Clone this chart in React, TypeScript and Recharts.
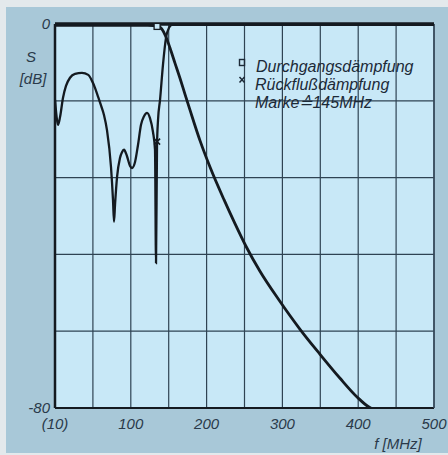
import React from 'react'
import {
  ComposedChart,
  Line,
  Scatter,
  XAxis,
  YAxis,
  CartesianGrid,
  ReferenceLine,
} from 'recharts'

// sweep 10..500 MHz, 10 divisions on screen
const xTicks = [10, 59, 108, 157, 206, 255, 304, 353, 402, 451, 500]
const xTickLabels = ['(10)', '', '100', '', '200', '', '300', '', '400', '', '500']
const yTicks = [-80, -64, -48, -32, -16, 0]
const yTickLabels = ['-80', '', '', '', '', '0']

// Durchgangsdämpfung (S21)
const throughFreq = [10, 60, 100, 130, 143, 148, 153.5, 158.7, 165, 171.6, 178, 184.5, 197.5, 210.4, 228.5, 242.7, 256.9, 275, 299.6, 326.8, 352.6, 378.5, 400.5, 416, 418.5]
const throughDb = [-0.3, -0.3, -0.3, -0.3, -0.4, -1, -2.7, -5, -8.1, -11.3, -14.6, -17.9, -24.3, -29.8, -36.6, -41.6, -46.3, -51.5, -57.5, -63.6, -68.8, -73.8, -77.7, -79.8, -80]

// Rückflußdämpfung (S11)
const returnFreq = [10, 12.6, 13.9, 16.5, 20.3, 24.2, 29.4, 35.9, 44.9, 53, 58, 61.7, 66, 70, 73.4, 77.2, 82.4, 85, 86.3, 87.6, 90.2, 94, 96.6, 99.2, 103, 107, 109.6, 113.4, 117.3, 121.2, 125.1, 129, 132.8, 136.7, 139.3, 140.6, 141.9, 143.2, 145.8, 149.6, 153.5, 157.4, 161.3, 200, 300, 400, 500]
const returnDb = [-15.8, -20, -21, -19.4, -15.4, -12.9, -11.2, -10.4, -10.2, -10.6, -11.9, -13.3, -15.3, -17.2, -19, -22.1, -29.8, -36.7, -41.2, -37.7, -31.9, -27.9, -26.7, -26.2, -27.5, -29.6, -30, -28.8, -25.2, -21, -19.2, -18.5, -19.6, -22.5, -26.2, -49.8, -25.2, -20, -15.8, -8.5, -2.9, -0.8, -0.2, -0.2, -0.2, -0.2, -0.2]

// Marke 145 MHz
const markerFreq = [142]
const markerThroughDb = [-0.5]
const markerReturnDb = [-24.5]

const through = throughFreq.map((f, i) => ({ f, db: throughDb[i] }))
const returnLoss = returnFreq.map((f, i) => ({ f, db: returnDb[i] }))
const markThrough = markerFreq.map((f, i) => ({ f, db: markerThroughDb[i] }))
const markReturn = markerFreq.map((f, i) => ({ f, db: markerReturnDb[i] }))

const INK = '#141a20'
const LABEL = '#2a3a4a'
const FONT = '"Liberation Sans", Arial, sans-serif'

const SquareMark = (p: any) => (
  <rect x={p.cx - 3} y={p.cy - 3} width={6} height={6} fill="#c8e8f7" stroke={INK} strokeWidth={1.3} />
)
const CrossMark = (p: any) => (
  <path d={`M${p.cx - 3},${p.cy - 3}L${p.cx + 3},${p.cy + 3}M${p.cx + 3},${p.cy - 3}L${p.cx - 3},${p.cy + 3}`} stroke={INK} strokeWidth={1.5} />
)

const tickStyle = { fill: LABEL, fontSize: 15, fontStyle: 'italic', fontFamily: FONT }

export default function App() {
  return (
    <div style={{ position: 'absolute', left: 0, top: 0, width: 448, height: 455, background: '#e3e9ec' }}>
      <div style={{ position: 'absolute', left: 6, top: 7, width: 442, height: 446, background: '#a8c8d8' }} />
      <div style={{ position: 'absolute', left: 0, top: 0 }}>
        <ComposedChart width={448} height={455} margin={{ top: 24, right: 14, bottom: 0, left: 0 }}>
          <CartesianGrid stroke="#2f4353" strokeWidth={1.2} fill="#c8e8f7" />
          <XAxis
            type="number"
            dataKey="f"
            domain={[10, 500]}
            ticks={xTicks}
            interval={0}
            allowDataOverflow
            height={47}
            axisLine={false}
            tickLine={false}
            tickMargin={4}
            tick={tickStyle}
            tickFormatter={(v: number, i: number) => xTickLabels[i]}
          />
          <YAxis
            type="number"
            dataKey="db"
            domain={[-80, 0]}
            ticks={yTicks}
            interval={0}
            allowDataOverflow
            width={55}
            axisLine={false}
            tickLine={false}
            tickSize={3}
            tickMargin={2}
            tick={tickStyle}
            tickFormatter={(v: number, i: number) => yTickLabels[i]}
          />
          <ReferenceLine x={10} stroke={INK} strokeWidth={2.5} />
          <ReferenceLine y={-80} stroke={INK} strokeWidth={2} />
          <ReferenceLine x={500} stroke="#34495a" strokeWidth={1.5} />
          <Line data={returnLoss} dataKey="db" type="monotone" stroke={INK} strokeWidth={2.3} dot={false} isAnimationActive={false} />
          <Line data={through} dataKey="db" type="monotone" stroke={INK} strokeWidth={2.8} dot={false} isAnimationActive={false} />
          <ReferenceLine y={0} stroke={INK} strokeWidth={3.5} />
          <Scatter data={markThrough} dataKey="db" shape={SquareMark} isAnimationActive={false} />
          <Scatter data={markReturn} dataKey="db" shape={CrossMark} isAnimationActive={false} />
        </ComposedChart>
      </div>
      <svg width={448} height={455} style={{ position: 'absolute', left: 0, top: 0, pointerEvents: 'none' }}>
        <g fontFamily={FONT} fontStyle="italic" fill={LABEL} fontSize={15}>
          <text x={31} y={62} textAnchor="middle">S</text>
          <text x={33} y={84} textAnchor="middle">[dB]</text>
          <text x={398} y={449} textAnchor="middle">f [MHz]</text>
        </g>
        <g fontFamily={FONT} fontStyle="italic" fill="#1c2a38" fontSize={16}>
          <rect x={239.5} y={59.5} width={5} height={6} fill="none" stroke="#1c2a38" strokeWidth={1.4} />
          <text x={256} y={72}>Durchgangsdämpfung</text>
          <path d="M239.5,77 L244.5,82.5 M244.5,77 L239.5,82.5" stroke="#1c2a38" strokeWidth={1.5} />
          <text x={255} y={90}>Rückflußdämpfung</text>
          <text x={255} y={108}>Marke≙145MHz</text>
        </g>
      </svg>
    </div>
  )
}
